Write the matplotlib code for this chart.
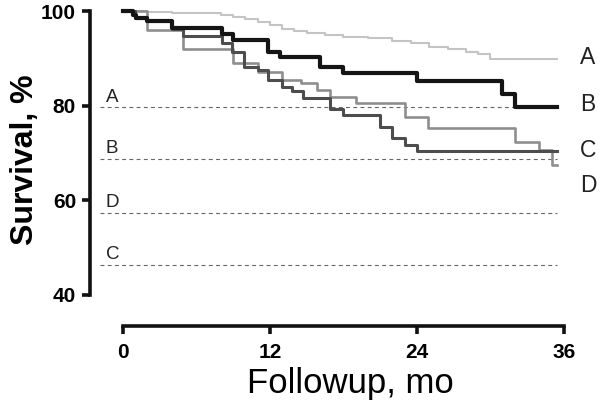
import matplotlib
matplotlib.use('Agg')
import matplotlib.pyplot as plt

plt.rcParams['font.family'] = ['Liberation Sans', 'DejaVu Sans']

# survival curves (months, %)
t_a = [0, 2, 4, 6, 8, 9, 10, 11, 12, 13, 14, 15, 16.5, 18, 20, 22, 23.5, 25, 26.5, 28, 29, 30, 35.4]
s_a = [100, 99.8, 99.6, 99.5, 99.2, 98.8, 98.3, 97.7, 97.0, 96.2, 95.8, 95.4, 95.0, 94.6, 94.2, 93.7, 93.3, 92.3, 92.0, 91.4, 91.0, 89.9, 89.9]

t_b = [0, 0.8, 1.1, 2.0, 4.0, 8.1, 9.0, 11.8, 12.8, 16.1, 18.0, 24.0, 30.9, 32.0, 35.4]
s_b = [100, 99.1, 98.6, 97.9, 96.5, 95.2, 93.9, 91.4, 90.3, 88.2, 86.8, 85.1, 82.4, 79.7, 79.7]

t_c = [0, 1.0, 2.0, 4.0, 4.9, 8.1, 8.9, 9.9, 11.0, 11.8, 13.0, 13.8, 14.7, 16.9, 18.0, 21.0, 22.0, 23.0, 24.0, 35.4]
s_c = [100, 98.6, 97.9, 96.1, 94.7, 93.2, 91.4, 88.2, 87.5, 85.4, 84.0, 83.0, 81.6, 79.3, 78.0, 75.5, 73.2, 71.7, 70.5, 70.5]

t_d = [0, 2.0, 4.9, 9.0, 11.0, 13.0, 14.5, 15.8, 16.9, 19.0, 23.0, 24.9, 32.0, 34.0, 35.0, 35.4]
s_d = [100, 96.0, 91.9, 89.0, 87.2, 85.4, 84.7, 83.3, 81.9, 80.6, 77.5, 75.2, 72.4, 70.6, 67.5, 67.5]

# reference levels (dashed)
ref_names = ['A', 'B', 'D', 'C']
ref_levels = [79.6, 68.8, 57.3, 46.3]

end_names = ['A', 'B', 'C', 'D']
end_pos = [90.1, 80.3, 70.6, 63.2]

fig = plt.figure(figsize=(6.0, 4.11), dpi=100)
ax = fig.add_axes([0.15, 0.2068, 0.79, 0.7664])

for lev, nm in zip(ref_levels, ref_names):
    ax.plot([-1.9, 35.4], [lev, lev], color='#666666', lw=0.8, linestyle=(0, (3.5, 3)))
    ax.text(-1.4, lev + 0.4, nm, fontsize=13.5, ha='left', va='bottom', color='#222222')

ax.step(t_a, s_a, where='post', color='#c4c4c4', lw=1.5, clip_on=False)
ax.step(t_d, s_d, where='post', color='#8e8e8e', lw=1.9, clip_on=False)
ax.step(t_c, s_c, where='post', color='#4d4d4d', lw=2.2, clip_on=False)
ax.step(t_b, s_b, where='post', color='#151515', lw=3.0, clip_on=False)

for nm, y in zip(end_names, end_pos):
    ax.text(37.3, y, nm, fontsize=16.5, ha='left', va='center', color='#222222', clip_on=False)

ax.set_xlim(-2.69, 36)
ax.set_ylim(33.4, 100)
ax.spines['top'].set_visible(False)
ax.spines['right'].set_visible(False)
ax.spines['left'].set_bounds(40, 100)
ax.spines['bottom'].set_bounds(0, 36)
for sp in ['left', 'bottom']:
    ax.spines[sp].set_linewidth(2.6)
    ax.spines[sp].set_color('#111111')

ax.set_xticks([0, 12, 24, 36])
ax.set_yticks([40, 60, 80, 100])
ax.tick_params(direction='out', length=6, width=2.6, color='#111111', pad=4)
ax.tick_params(axis='x', pad=6)
for lab in ax.get_xticklabels() + ax.get_yticklabels():
    lab.set_fontweight('bold')
    lab.set_fontsize(15)

ax.set_xlabel('Followup, mo', fontsize=25)
ax.set_ylabel('Survival, %', fontsize=23, fontweight='bold')
ax.xaxis.set_label_coords(0.549, -0.13)
ax.yaxis.set_label_coords(-0.105, 0.527)

fig.savefig('out.png', dpi=100)
